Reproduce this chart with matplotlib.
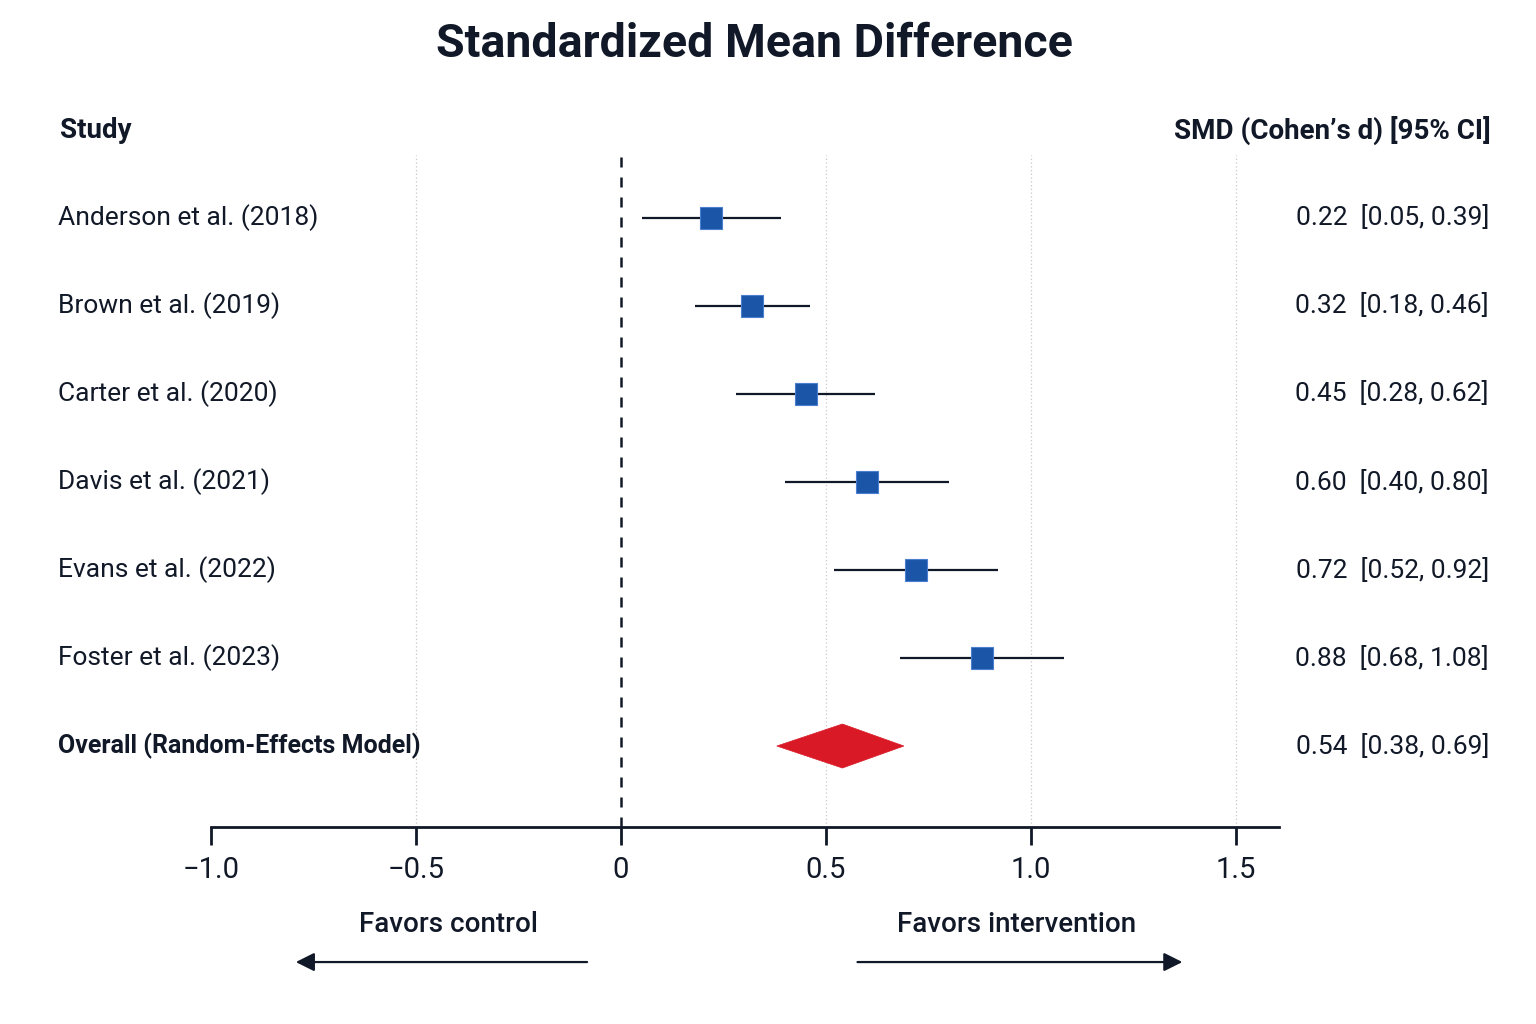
import numpy as np
import matplotlib.pyplot as plt
import matplotlib.transforms as mtransforms
from matplotlib.patches import Polygon

plt.rcParams['font.family'] = ['Liberation Sans Narrow', 'Roboto', 'DejaVu Sans']

# ---------------------------------------------------------------------------
# données
studies = ["Anderson et al. (2018)", "Brown et al. (2019)", "Carter et al. (2020)",
           "Davis et al. (2021)", "Evans et al. (2022)", "Foster et al. (2023)"]
smd = [0.22, 0.32, 0.45, 0.60, 0.72, 0.88]
ci_low = [0.05, 0.18, 0.28, 0.40, 0.52, 0.68]
ci_high = [0.39, 0.46, 0.62, 0.80, 0.92, 1.08]

overall_label = "Overall (Random-Effects Model)"
overall_smd = 0.54
overall_low = 0.38
overall_high = 0.69

xticks = [-1.0, -0.5, 0, 0.5, 1.0, 1.5]
xtick_labels = ["\u22121.0", "\u22120.5", "0", "0.5", "1.0", "1.5"]

# ---------------------------------------------------------------------------
txt = "#111827"
blue = "#1a55a8"
red = "#d91a26"

fig = plt.figure(figsize=(15.36, 10.24), dpi=100)
ax = fig.add_axes([0.1374, 0.1924, 0.6953, 0.6566])

rows = np.arange(len(studies))
ax.hlines(rows, ci_low, ci_high, color=txt, lw=1.6, zorder=3)
ax.plot(smd, rows, 's', ms=16, mfc=blue, mec="#4a7fd0", mew=0.8, zorder=4)

y_ov = len(studies)
diamond = Polygon([[overall_low, y_ov], [overall_smd, y_ov - 0.25],
                   [overall_high, y_ov], [overall_smd, y_ov + 0.25]],
                  closed=True, fc=red, ec=red, lw=0.5, zorder=4)
ax.add_patch(diamond)

ax.axvline(0, color=txt, lw=1.8, ls=(0, (4, 4)), zorder=2)
for xt in [-0.5, 0.5, 1.0, 1.5]:
    ax.axvline(xt, color="#c8c8c8", lw=0.9, ls=(0, (1, 2)), zorder=1)

ax.set_xlim(-1.0, 1.605)
ax.set_ylim(6.92, -0.72)
ax.set_yticks([])
ax.set_xticks(xticks)
ax.set_xticklabels(xtick_labels, fontsize=21, color=txt)
ax.tick_params(axis='x', length=13, width=2, color=txt, pad=8)
for s in ['top', 'left', 'right']:
    ax.spines[s].set_visible(False)
ax.spines['bottom'].set_linewidth(2)
ax.spines['bottom'].set_color(txt)

# textes gauche / droite
tr = mtransforms.blended_transform_factory(fig.transFigure, ax.transData)
for i, name in enumerate(studies):
    ax.text(0.0378, i, name, transform=tr, ha='left', va='center', fontsize=19, color=txt)
    ax.text(0.9694, i, f"{smd[i]:.2f}  [{ci_low[i]:.2f}, {ci_high[i]:.2f}]",
            transform=tr, ha='right', va='center', fontsize=19, color=txt)
ax.text(0.0378, y_ov, overall_label, transform=tr, ha='left', va='center',
        fontsize=18, fontweight='bold', color=txt)
ax.text(0.9694, y_ov, f"{overall_smd:.2f}  [{overall_low:.2f}, {overall_high:.2f}]",
        transform=tr, ha='right', va='center', fontsize=19, color=txt)

fig.text(0.039, 0.873, "Study", ha='left', va='center', fontsize=20,
         fontweight='bold', color=txt)
fig.text(0.9707, 0.873, "SMD (Cohen\u2019s d) [95% CI]", ha='right', va='center',
         fontsize=20, fontweight='bold', color=txt)
fig.text(0.491, 0.957, "Standardized Mean Difference", ha='center', va='center',
         fontsize=33.5, fontweight='bold', color=txt)

# flèches du bas
tb = mtransforms.blended_transform_factory(ax.transData, fig.transFigure)
ax.annotate("", xy=(-0.80, 0.0605), xytext=(-0.076, 0.0605), xycoords=tb, textcoords=tb,
            arrowprops=dict(arrowstyle='-|>', color=txt, lw=1.6, mutation_scale=28))
ax.annotate("", xy=(1.376, 0.0605), xytext=(0.57, 0.0605), xycoords=tb, textcoords=tb,
            arrowprops=dict(arrowstyle='-|>', color=txt, lw=1.6, mutation_scale=28))
ax.text(-0.42, 0.0967, "Favors control", transform=tb, ha='center', va='center',
        fontsize=20, fontweight='medium', color=txt)
ax.text(0.966, 0.0967, "Favors intervention", transform=tb, ha='center', va='center',
        fontsize=20, fontweight='medium', color=txt)

fig.savefig("out.png", dpi=100, facecolor='white')
